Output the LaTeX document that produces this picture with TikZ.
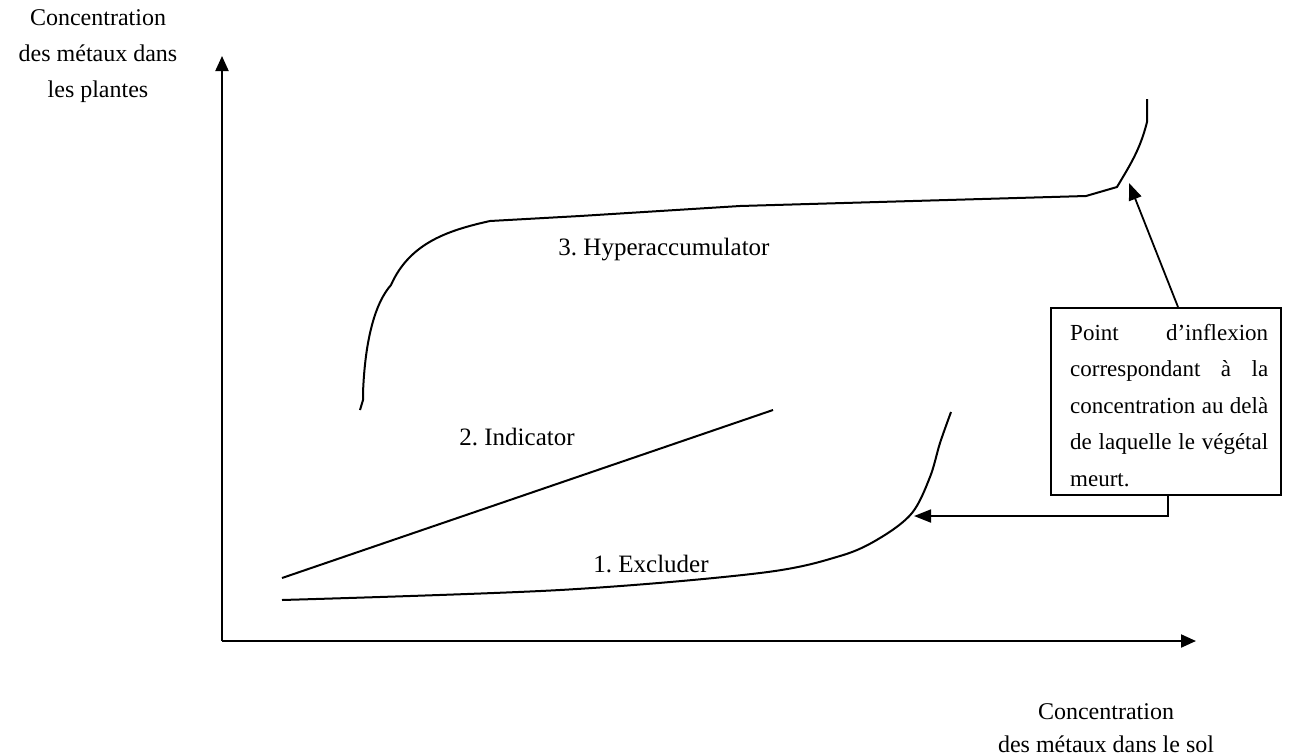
\documentclass[tikz,border=0pt]{standalone}
\usepackage{fontspec}
\setmainfont{Liberation Serif}
\usetikzlibrary{arrows.meta}
\begin{document}
\frenchspacing
\hyphenpenalty=10000
\exhyphenpenalty=10000
\tolerance=10000
\begin{tikzpicture}[x=1pt,y=-1pt,
  axlbl/.style={inner sep=0pt, align=center},
  lbl/.style={font=\fontsize{25}{29}\selectfont, inner sep=0pt},
  curve/.style={line width=2pt, line join=round},
  ax/.style={line width=2pt, -{Triangle[length=15pt,width=13pt]}},
  callout/.style={line width=1.8pt, -{Triangle[length=17pt,width=13pt]}}]
\useasboundingbox (0,0) rectangle (1305,755);
% axes
\coordinate (O) at (222,641);
\coordinate (Ytop) at (222,56);
\coordinate (Xend) at (1196,641);
\draw[ax] (O) -- (Ytop);
\draw[ax] (O) -- (Xend);
% axis labels
\node[axlbl, font=\fontsize{24}{36}\selectfont] (ylab) at (98,56) {Concentration\\des métaux dans\\les plantes};
\node[axlbl, font=\fontsize{24}{33}\selectfont] (xlab) at (1106,728) {Concentration\\des métaux dans le sol};
% curves
\draw[curve] (360,410) -- (363,400) -- (363,393)
  .. controls (365,340) and (375,303) .. (391,285)
  .. controls (410,242) and (450,230) .. (490,221)
  -- (580,216) -- (740,206) -- (1086,196) -- (1117,187)
  .. controls (1130,165) and (1140,150) .. (1147,122) -- (1147,99);
\draw[curve] (282,578) -- (773,410);
\draw[curve] plot[smooth, tension=0.55] coordinates
  {(282,600) (560,590) (760,573) (840,556) (880,538) (912,513) (930,477) (940,443) (951,412)};
% curve labels
\node[lbl] (l3) at (664,250) {3. Hyperaccumulator};
\node[lbl] (l2) at (517,437) {2. Indicator};
\node[lbl] (l1) at (651,564) {1. Excluder};
% call-out box
\node[draw, line width=1.8pt, anchor=north west, minimum width=230pt, minimum height=187pt,
  inner sep=0pt] (box) at (1050,307) {};
\node[anchor=north west, inner sep=0pt, text width=198pt, align=justify,
  font=\fontsize{23}{36.5}\selectfont] (boxtext) at (1070,324)
  {Point d’inflexion correspondant à la concentration au delà de laquelle le végétal meurt.};
\coordinate (tip3) at (1129,183);
\coordinate (tip1) at (914,516);
\draw[callout] (box.north -| 1178,307) -- (tip3);
\draw[callout] (box.south -| 1168,0) |- (tip1);
\end{tikzpicture}
\end{document}
